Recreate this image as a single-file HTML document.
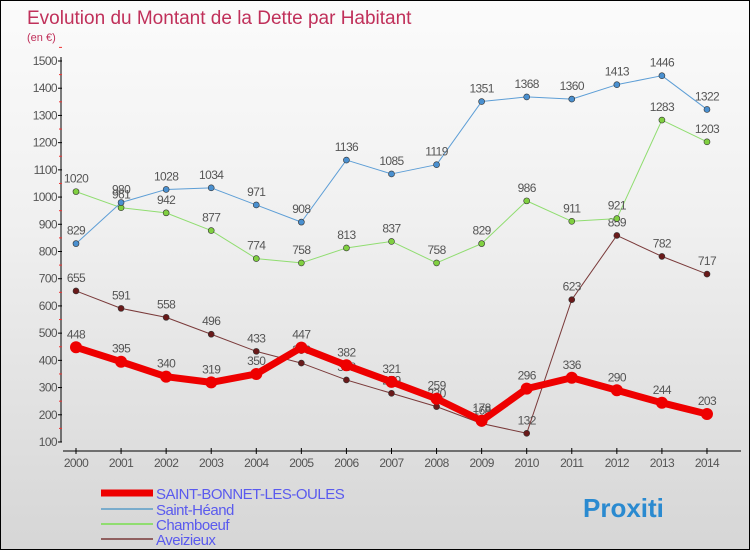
<!DOCTYPE html>
<html><head><meta charset="utf-8"><style>
body{margin:0}
#c{width:748px;height:548px;border:1px solid #000;background:linear-gradient(#fbfbfb,#f0f0f0 40%,#d6d6d6);position:relative;overflow:hidden;font-family:"Liberation Sans",sans-serif}
</style></head><body>
<div id="c">
<svg id="s" width="748" height="548" style="position:absolute;left:0;top:0">
<text x="26" y="23" font-size="19" fill="#c0305a">Evolution du Montant de la Dette par Habitant</text>
<text x="26" y="40" font-size="11" fill="#c0305a">(en €)</text>
</svg>
</div>
<script>
const years=[2000,2001,2002,2003,2004,2005,2006,2007,2008,2009,2010,2011,2012,2013,2014];
const yTicks=[100,200,300,400,500,600,700,800,900,1000,1100,1200,1300,1400,1500];
const sbo=[448,395,340,319,350,447,382,321,259,178,296,336,290,244,203];
const heand=[829,980,1028,1034,971,908,1136,1085,1119,1351,1368,1360,1413,1446,1322];
const chamb=[1020,961,942,877,774,758,813,837,758,829,986,911,921,1283,1203];
const aveiz=[655,591,558,496,433,390,328,279,230,168,132,623,859,782,717];
const NS="http://www.w3.org/2000/svg",s=document.getElementById('s');
const X=i=>75+i*45.07, Y=v=>441-(v-100)*381/1400;
function el(t,a){const e=document.createElementNS(NS,t);for(const k in a)e.setAttribute(k,a[k]);s.appendChild(e);return e;}
let ax=el('path',{d:'M60 56V441M62 450H740',stroke:'#000','stroke-width':1,fill:'none'});


yTicks.forEach(v=>{el('line',{x1:57,x2:61,y1:Y(v),y2:Y(v),stroke:'#000'});
el('line',{x1:58,x2:61,y1:Y(v+50),y2:Y(v+50),stroke:'#e33'});
const t=el('text',{x:56,y:Y(v)+4,'font-size':12,fill:'#555','text-anchor':'end','letter-spacing':'-0.6'});t.textContent=v;

});
years.forEach((y,i)=>{el('line',{x1:X(i),x2:X(i),y1:447,y2:453,stroke:'#000'});
const t=el('text',{x:X(i),y:466,'font-size':12,fill:'#555','text-anchor':'middle','letter-spacing':'-0.6'});t.textContent=y;

});
function series(d,col,w,r,dot,name){
const p=el('polyline',{points:d.map((v,i)=>X(i)+','+Y(v)).join(' '),fill:'none',stroke:col,'stroke-width':w,'stroke-linejoin':'round'});


d.forEach((v,i)=>{const c=el('circle',{cx:X(i),cy:Y(v),r:r,fill:dot,stroke:'#333','stroke-width':r>4?0:0.6});


const t=el('text',{x:X(i),y:Y(v)-9,'font-size':12,fill:'#555','text-anchor':'middle','letter-spacing':'-0.6'});t.textContent=v;

});}
series(aveiz,'#7a3a3a',1,3,'#6a1a1a','aveizieux');
series(chamb,'#90dd70',1,3,'#80d040','chamboeuf');
series(heand,'#5d9ed6',1,3,'#4a90d0','saint-heand');
series(sbo,'#ee0000',7,6,'#ee0000','saint-bonnet');
const leg=[['SAINT-BONNET-LES-OULES','#ee0000',7,492],['Saint-Héand','#7aaccc',2,508],['Chamboeuf','#90dd70',2,523],['Aveizieux','#906060',2,538]];
leg.forEach(l=>{const ln=el('line',{x1:100,x2:152,y1:l[3],y2:l[3],stroke:l[1],'stroke-width':l[2]});


const t=el('text',{x:155,y:l[3]+6,'font-size':15,fill:'#5a5aee','letter-spacing':'-0.5'});t.textContent=l[0];

});
const lg=el('text',{x:582,y:516,'font-size':26,'font-weight':'bold',fill:'#2a8ad0'});lg.textContent='Proxiti';


</script>
</body></html>
